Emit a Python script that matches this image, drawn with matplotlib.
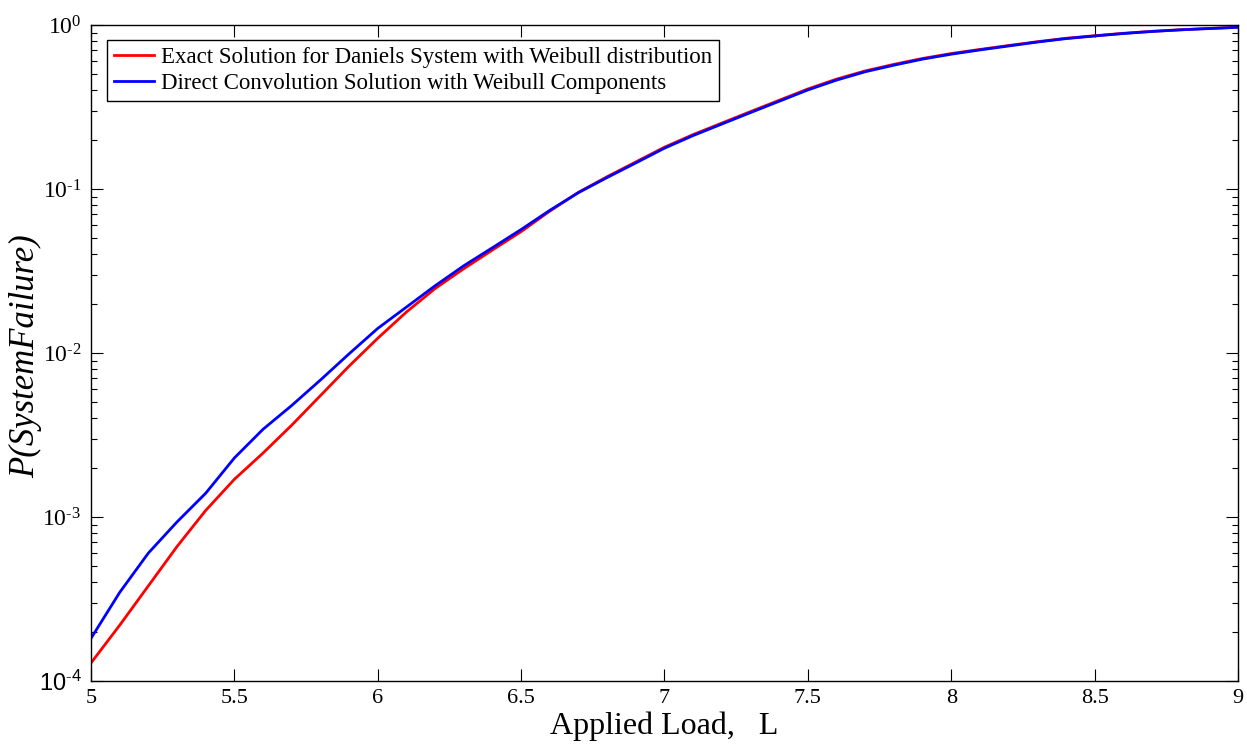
import numpy as np
import matplotlib
matplotlib.use("Agg")
import matplotlib.pyplot as plt
from matplotlib.ticker import FixedLocator, LogLocator, NullFormatter

# ---- data ----
load = [5.0, 5.1, 5.2, 5.3, 5.4, 5.5, 5.6, 5.7, 5.8, 5.9,
        6.0, 6.1, 6.2, 6.3, 6.4, 6.5, 6.6, 6.7, 6.8, 6.9,
        7.0, 7.1, 7.2, 7.3, 7.4, 7.5, 7.6, 7.7, 7.8, 7.9,
        8.0, 8.1, 8.2, 8.3, 8.4, 8.5, 8.6, 8.7, 8.8, 8.9, 9.0]

log_exact = [-3.89, -3.66, -3.42, -3.18, -2.96, -2.77, -2.61, -2.44, -2.26, -2.08,
             -1.91, -1.75, -1.607, -1.486, -1.372, -1.26, -1.135, -1.02, -0.925, -0.835,
             -0.745, -0.668, -0.598, -0.528, -0.459, -0.390, -0.330, -0.280, -0.240, -0.204,
             -0.174, -0.149, -0.125, -0.102, -0.081, -0.0655, -0.0506, -0.0386, -0.029, -0.021, -0.014]

log_conv = [-3.74, -3.46, -3.22, -3.03, -2.855, -2.64, -2.465, -2.32, -2.165, -2.005,
            -1.85, -1.72, -1.59, -1.468, -1.358, -1.247, -1.13, -1.022, -0.930, -0.841,
            -0.751, -0.674, -0.604, -0.534, -0.465, -0.396, -0.336, -0.285, -0.245, -0.208,
            -0.178, -0.152, -0.128, -0.104, -0.083, -0.067, -0.052, -0.0395, -0.0295, -0.0215, -0.014]

exact = [10 ** v for v in log_exact]
conv = [10 ** v for v in log_conv]

xticks = [5, 5.5, 6, 6.5, 7, 7.5, 8, 8.5, 9]
xtick_labels = ["5", "5.5", "6", "6.5", "7", "7.5", "8", "8.5", "9"]
yticks = [1e-4, 1e-3, 1e-2, 1e-1, 1e0]
ytick_labels = [r"$\mathregular{10^{\text{-}4}}$", r"$\mathregular{10^{\text{-}3}}$",
                r"$\mathregular{10^{\text{-}2}}$", r"$\mathregular{10^{\text{-}1}}$",
                r"$\mathregular{10^{0}}$"]

label_exact = "Exact Solution for Daniels System with Weibull distribution"
label_conv = "Direct Convolution Solution with Weibull Components"

# ---- plotting ----
plt.rcParams['font.family'] = ['Liberation Serif', 'DejaVu Serif']
plt.rcParams['mathtext.fontset'] = 'custom'
plt.rcParams['mathtext.rm'] = 'Liberation Serif'
plt.rcParams['mathtext.it'] = 'Liberation Serif:italic'

fig = plt.figure(figsize=(12.47, 7.46), dpi=100)
ax = fig.add_axes([91 / 1247, 1 - 681 / 746, (1238 - 91) / 1247, (681 - 25) / 746])

ax.plot(load, exact, color='#ff0000', lw=2.0, label=label_exact)
ax.plot(load, conv, color='#0000ff', lw=2.0, label=label_conv)

ax.set_yscale('log')
ax.set_xlim(5, 9)
ax.set_ylim(1e-4, 1e0)

ax.xaxis.set_major_locator(FixedLocator(xticks))
ax.set_xticklabels(xtick_labels)
ax.yaxis.set_major_locator(FixedLocator(yticks))
ax.set_yticklabels(ytick_labels)
ax.yaxis.set_minor_locator(LogLocator(base=10, subs=np.arange(2, 10)))
ax.yaxis.set_minor_formatter(NullFormatter())

ax.tick_params(which='both', direction='in', top=True, right=True, colors='black')
ax.tick_params(which='major', length=8.5, width=0.8, pad=6)
ax.tick_params(axis='y', which='major', labelsize=17, pad=7)
ax.tick_params(axis='x', which='major', labelsize=16, pad=6)
ax.tick_params(which='minor', length=4.5, width=0.8)
for s in ax.spines.values():
    s.set_linewidth(1.0)

ax.set_xlabel("Applied Load,   L", fontsize=23, labelpad=2)
ax.set_ylabel("P(SystemFailure)", fontsize=25, style='italic')
ax.yaxis.set_label_coords(-0.0427, 0.495)

leg = ax.legend(loc='upper left', bbox_to_anchor=(0.014, 0.977), borderaxespad=0,
                fancybox=False, edgecolor='black', framealpha=1, fontsize=16.5,
                handlelength=1.75, handletextpad=0.3, borderpad=0.3, labelspacing=0.22)
leg.get_frame().set_linewidth(1.0)

fig.canvas.draw()
# the lowest decade label is drawn in a sans face in the reference
ax.get_yticklabels()[0].set_fontfamily('Liberation Sans')

fig.savefig("out.png", dpi=100)
